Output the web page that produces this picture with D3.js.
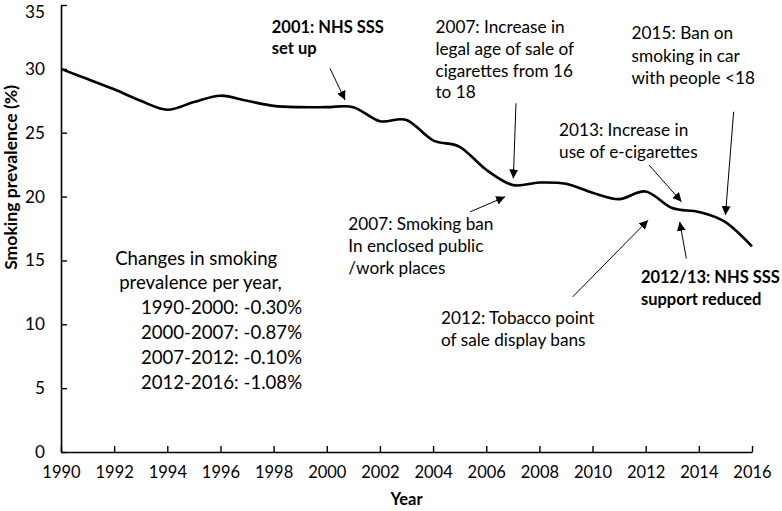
<!DOCTYPE html>
<html>
<head>
<meta charset="utf-8">
<script src="https://cdn.jsdelivr.net/npm/d3@7"></script>
<style>
  html, body { margin: 0; padding: 0; background: #ffffff; }
  #chart { width: 782px; height: 511px; }
  text { font-family: Lato, "Open Sans", sans-serif; fill: #000; }
</style>
</head>
<body>
<div id="chart"></div>
<script>
const years = [1990, 1991, 1992, 1993, 1994, 1995, 1996, 1997, 1998, 1999, 2000, 2001, 2002,
  2003, 2004, 2005, 2006, 2007, 2008, 2009, 2010, 2011, 2012, 2013, 2014, 2015, 2016];
const prevalence = [30.0, 29.2, 28.4, 27.5, 26.8, 27.4, 27.9, 27.5, 27.1, 27.0, 27.0, 27.0, 25.9,
  26.0, 24.4, 23.9, 22.1, 20.9, 21.1, 21.0, 20.3, 19.8, 20.4, 19.1, 18.8, 18.0, 16.1];

const xTicks = d3.range(1990, 2017, 2);
const yTicks = [0, 5, 10, 15, 20, 25, 30, 35];

// text blocks: [year, value] of first baseline
const notes = [
  { lines: ["2001: NHS SSS", "set up"], at: [1997.93, 32.78], bold: true, step: 21 },
  { lines: ["2007: Increase in", "legal age of sale of", "cigarettes from 16", "to 18"], at: [2004.09, 32.78], step: 21.7 },
  { lines: ["2015: Ban on", "smoking in car", "with people <18"], at: [2011.47, 32.31], step: 22.5 },
  { lines: ["2013: Increase in", "use of e-cigarettes"], at: [2008.74, 24.74], step: 21.8 },
  { lines: ["2007: Smoking ban", "In enclosed public", "/work places"], at: [2000.81, 17.37], step: 22 },
  { lines: ["2012: Tobacco point", "of sale display bans"], at: [2004.30, 10.01], step: 22 },
  { lines: ["2012/13: NHS SSS", "support reduced"], at: [2011.82, 13.27], bold: true, step: 22 }
];

// arrows: from [year, value] to [year, value]
const arrows = [
  [[2000.12, 30.04], [2000.69, 27.56]],
  [[2007.12, 27.30], [2007.02, 21.42]],
  [[2015.31, 26.64], [2015.00, 18.55]],
  [[2012.13, 22.46], [2013.35, 19.59]],
  [[2005.39, 18.80], [2006.71, 19.98]],
  [[2009.25, 12.14], [2012.09, 18.15]],
  [[2013.53, 15.15], [2013.28, 18.02]]
];

const changeTitle = ["Changes in smoking", "prevalence per year,"];
const changeTitleAt = [[1992.04, 14.63], [1992.19, 12.80]];
const changeRows = ["1990-2000: -0.30%", "2000-2007: -0.87%", "2007-2012: -0.10%", "2012-2016: -1.08%"];
const changeRowsAt = [1999.07, 10.84];

function renderChart() {
  const width = 782, height = 511;
  const margin = { top: 5, right: 30, bottom: 59, left: 61 };
  const noteSize = 17.2;

  const svg = d3.select("#chart").append("svg")
    .attr("width", width)
    .attr("height", height);

  const x = d3.scaleLinear().domain([1990, 2016]).range([margin.left, width - margin.right]);
  const y = d3.scaleLinear().domain([0, 35]).range([height - margin.bottom, margin.top]);

  svg.append("defs").append("marker")
    .attr("id", "head")
    .attr("viewBox", "0 0 10 10")
    .attr("refX", 10)
    .attr("refY", 5)
    .attr("markerWidth", 9)
    .attr("markerHeight", 9)
    .attr("markerUnits", "userSpaceOnUse")
    .attr("orient", "auto")
    .append("path")
    .attr("d", "M0,0L10,5L0,10Z")
    .attr("fill", "#000");

  // axes
  const xAxis = svg.append("g")
    .attr("transform", `translate(0,${y(0)})`)
    .call(d3.axisBottom(x).tickValues(xTicks).tickFormat(d3.format("d")).tickSizeInner(-6).tickSizeOuter(0).tickPadding(14));

  const yAxis = svg.append("g")
    .attr("transform", `translate(${x(1990)},0)`)
    .call(d3.axisLeft(y).tickValues(yTicks).tickSizeInner(-6).tickSizeOuter(0).tickPadding(16));

  [xAxis, yAxis].forEach(a => {
    a.select(".domain").attr("stroke", "#000").attr("stroke-width", 1.6);
    a.selectAll(".tick line").attr("stroke", "#000").attr("stroke-width", 1.4);
    a.selectAll(".tick text")
      .attr("font-family", "Lato, 'Open Sans', sans-serif")
      .attr("font-size", 16.5)
      .attr("fill", "#000");
  });
  xAxis.selectAll(".tick text").attr("dy", "0.71em");
  yAxis.selectAll(".tick text").attr("font-size", 17.2);
  // top label sits at the page edge; keep it just inside
  yAxis.selectAll(".tick text").filter(d => d === 35).attr("dy", "0.72em");

  svg.append("text")
    .attr("x", (x(1990) + x(2016)) / 2)
    .attr("y", 505)
    .attr("text-anchor", "middle")
    .attr("font-weight", "bold")
    .attr("font-size", 16.5)
    .text("Year");

  svg.append("text")
    .attr("transform", `translate(16.5,${y(21.5)}) rotate(-90)`)
    .attr("text-anchor", "middle")
    .attr("font-weight", "bold")
    .attr("font-size", 17.6)
    .text("Smoking prevalence (%)");

  // line
  const line = d3.line()
    .x((d, i) => x(years[i]))
    .y(d => y(d))
    .curve(d3.curveCardinal.tension(0));

  svg.append("path")
    .datum(prevalence)
    .attr("fill", "none")
    .attr("stroke", "#000")
    .attr("stroke-width", 2.6)
    .attr("d", line);

  // arrows
  svg.selectAll("line.arrow")
    .data(arrows)
    .join("line")
    .attr("class", "arrow")
    .attr("x1", d => x(d[0][0]))
    .attr("y1", d => y(d[0][1]))
    .attr("x2", d => x(d[1][0]))
    .attr("y2", d => y(d[1][1]))
    .attr("stroke", "#000")
    .attr("stroke-width", 1)
    .attr("marker-end", "url(#head)");

  // annotation text
  notes.forEach(n => {
    const t = svg.append("text")
      .attr("font-size", n.bold ? 16.5 : noteSize)
      .attr("font-weight", n.bold ? "bold" : "normal");
    n.lines.forEach((s, i) => {
      t.append("tspan")
        .attr("x", x(n.at[0]))
        .attr("y", y(n.at[1]) + i * n.step)
        .text(s);
    });
  });

  changeTitle.forEach((s, i) => {
    svg.append("text")
      .attr("x", x(changeTitleAt[i][0]))
      .attr("y", y(changeTitleAt[i][1]))
      .attr("font-size", 18.6)
      .text(s);
  });

  changeRows.forEach((s, i) => {
    svg.append("text")
      .attr("x", x(changeRowsAt[0]))
      .attr("y", y(changeRowsAt[1]) + i * 25)
      .attr("text-anchor", "end")
      .attr("font-size", 18.6)
      .text(s);
  });
}

renderChart();
</script>
</body>
</html>
